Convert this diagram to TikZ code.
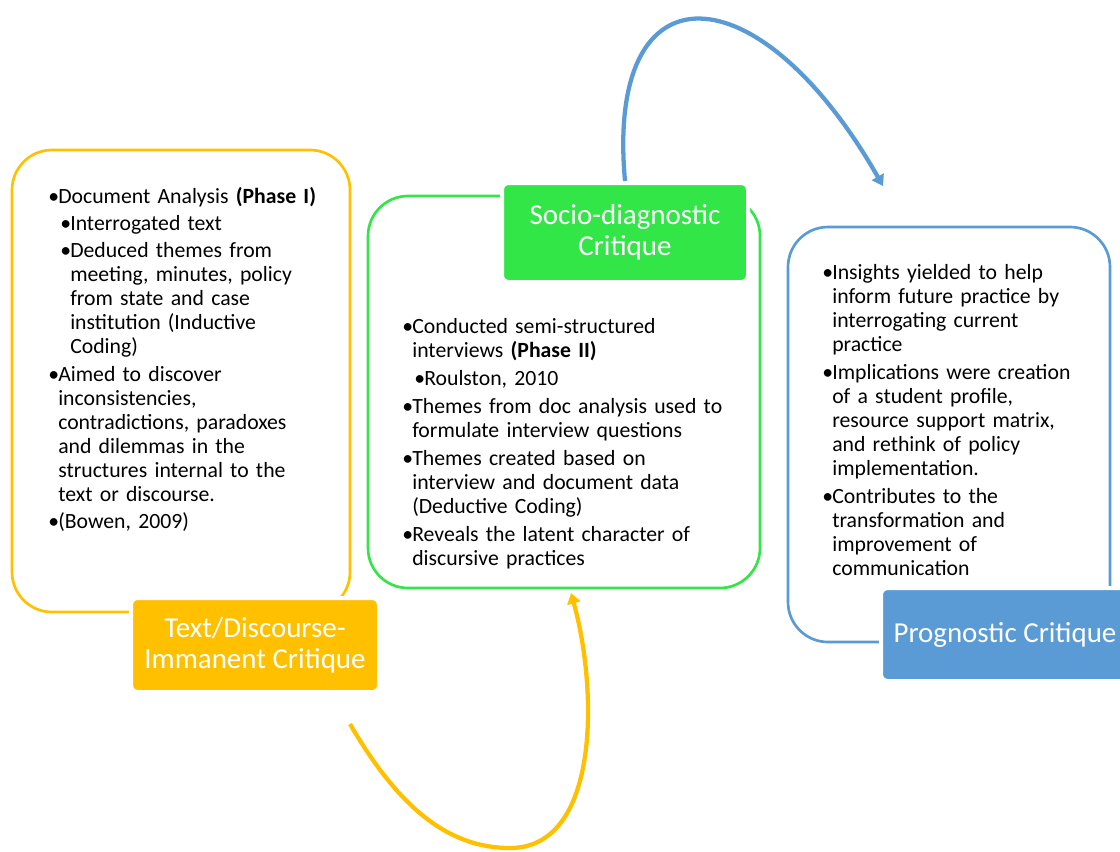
\documentclass[tikz,border=0pt]{standalone}
\usepackage{fontspec}
\setmainfont{Carlito}
\usetikzlibrary{arrows.meta}

\definecolor{critgold}{RGB}{255,192,0}
\definecolor{critgreen}{RGB}{51,230,72}
\definecolor{critblue}{RGB}{91,155,213}

\newlength\bulw
\setlength\bulw{7.5pt}
\newcommand{\bpoint}[2][0pt]{\leftskip=#1\hangindent=\bulw\hangafter=1\noindent\makebox[\bulw][l]{\textbullet}#2\par}

\begin{document}
\begin{tikzpicture}[x=0.75pt, y=-0.75pt,
    critbox/.style={draw, line width=2pt, rounded corners=30pt},
    crithead/.style={draw=white, line width=3pt, rounded corners=5pt, text=white,
      align=center, font=\fontsize{21.7}{23.25}\selectfont},
    body/.style={anchor=base west, inner sep=0pt, text width=#1,
      font=\fontsize{16.3}{18}\selectfont},
    flow/.style={line width=3.2pt, -{Triangle[length=8pt,width=10pt]}}]
    \useasboundingbox (0,0) rectangle (1120,851);
    \clip (0,0) rectangle (1120,851);

    \node[critbox, draw=critgold, minimum width=253.5pt, minimum height=346.5pt] (immbox) at (181,381) {};
    \node[critbox, draw=critgreen, minimum width=294pt, minimum height=294pt] (socbox) at (564,392) {};
    \node[critbox, draw=critblue, minimum width=241.5pt, minimum height=311.25pt] (progbox) at (949,434.5) {};

    \node[crithead, fill=critgold, minimum width=186pt, minimum height=70.5pt] (imm) at (255,645) {Text/Discourse-\\Immanent Critique};
    \node[crithead, fill=critgreen, minimum width=184.5pt, minimum height=74.25pt] (soc) at (625,232.5) {Socio-diagnostic\\Critique};
    \node[crithead, fill=critblue, minimum width=186pt, minimum height=69.75pt] (prog) at (1005,634.5) {Prognostic Critique};

    \node[body=240pt] (immtext) at (48,203) {\raggedright\parskip=2.5pt
      \bpoint{Document Analysis \textbf{(Phase I)}}
      \bpoint[9pt]{Interrogated text}
      \bpoint[9pt]{Deduced themes from\newline meeting, minutes, policy\newline from state and case\newline institution (Inductive\newline Coding)}
      \bpoint{Aimed to discover\newline inconsistencies,\newline contradictions, paradoxes\newline and dilemmas in the\newline structures internal to the\newline text or discourse.}
      \bpoint{(Bowen, 2009)}};
    \node[body=260pt] (soctext) at (402,333) {\raggedright\parskip=3pt
      \bpoint{Conducted semi-structured\newline interviews \textbf{(Phase II)}}
      \bpoint[9pt]{Roulston, 2010}
      \bpoint{Themes from doc analysis used to\newline formulate interview questions}
      \bpoint{Themes created based on\newline interview and document data\newline (Deductive Coding)}
      \bpoint{Reveals the latent character of\newline discursive practices}};
    \node[body=220pt] (progtext) at (822,279) {\raggedright\parskip=3pt
      \bpoint{Insights yielded to help\newline inform future practice by\newline interrogating current\newline practice}
      \bpoint{Implications were creation\newline of a student profile,\newline resource support matrix,\newline and rethink of policy\newline implementation.}
      \bpoint{Contributes to the\newline transformation and\newline improvement of\newline communication}};

    \coordinate (bluetip) at (883,186);
    \coordinate (goldtail) at (350,724);
    \coordinate (goldtip) at (571,593);
    \draw[flow, critblue] (soc.north) .. controls (605,-40) and (760,-30) .. (bluetip);
    \draw[flow, critgold] (goldtail) .. controls (400,810) and (450,848) .. (510,848)
      .. controls (600,848) and (598,690) .. (goldtip);
\end{tikzpicture}
\end{document}
